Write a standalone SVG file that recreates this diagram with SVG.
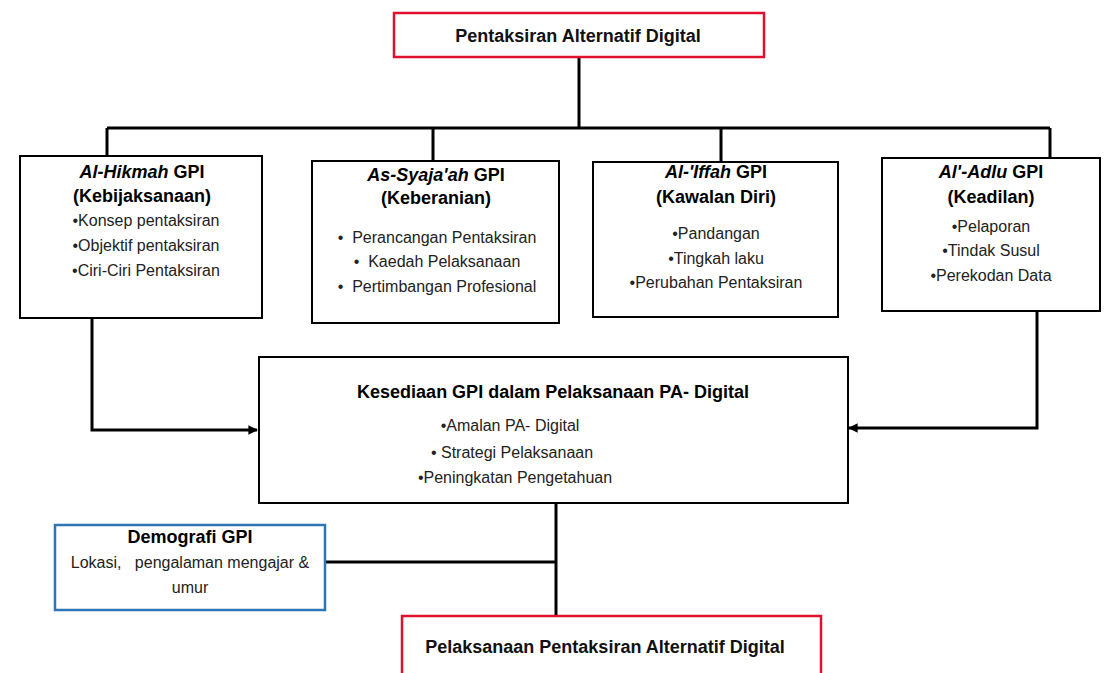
<svg xmlns="http://www.w3.org/2000/svg" width="1104" height="673" viewBox="0 0 1104 673">
<defs>
<style>
.box{fill:#fff;stroke:#000;stroke-width:2}
.red{fill:#fff;stroke:#e0102f;stroke-width:2.5}
.blue{fill:#fff;stroke:#2e75b6;stroke-width:2.5}
.ttl{font-family:"Liberation Sans",Arial,sans-serif;font-weight:bold;font-size:18px;fill:#000;text-anchor:middle}
.hd{font-family:"Liberation Sans",Arial,sans-serif;font-weight:bold;font-size:18px;fill:#111;text-anchor:middle}
.bl{font-family:"Liberation Sans",Arial,sans-serif;font-size:16px;fill:#222;text-anchor:middle;white-space:pre}
.it{font-style:italic}
.ln{fill:none;stroke:#000;stroke-width:3}
</style>
<marker id="ar" viewBox="0 0 10 10" refX="9" refY="5" markerWidth="3.2" markerHeight="3.2" orient="auto" markerUnits="strokeWidth">
<path d="M0,0 L10,5 L0,10 z" fill="#000"/>
</marker>
</defs>
<rect width="1104" height="673" fill="#fff"/>
<g id="connectors">
<path class="ln" d="M579,57 V128"/>
<path class="ln" d="M107,128 H1050"/>
<path class="ln" d="M107,128 V156"/>
<path class="ln" d="M433,128 V161"/>
<path class="ln" d="M721,128 V162"/>
<path class="ln" d="M1050,128 V158"/>
<path class="ln" d="M92,318 V430 H257" marker-end="url(#ar)"/>
<path class="ln" d="M1037,311 V428 H849" marker-end="url(#ar)"/>
<path class="ln" d="M556,503 V616"/>
<path class="ln" d="M325,562 H556"/>
</g>
<g id="top">
<rect class="red" x="394" y="13" width="370" height="44"/>
<text class="hd" x="578" y="42">Pentaksiran Alternatif Digital</text>
</g>
<g id="hikmah">
<rect class="box" x="20" y="156" width="242" height="162"/>
<text class="ttl" x="142" y="178"><tspan class="it">Al-Hikmah</tspan> GPI</text>
<text class="ttl" x="142" y="202">(Kebijaksanaan)</text>
<text class="bl" x="146" y="226">•Konsep pentaksiran</text>
<text class="bl" x="146" y="251">•Objektif pentaksiran</text>
<text class="bl" x="146" y="276">•Ciri-Ciri Pentaksiran</text>
</g>
<g id="syajaah">
<rect class="box" x="312" y="161" width="247" height="162"/>
<text class="ttl" x="436" y="181"><tspan class="it">As-Syaja'ah</tspan> GPI</text>
<text class="ttl" x="436" y="204">(Keberanian)</text>
<text class="bl" x="437" y="243">•  Perancangan Pentaksiran</text>
<text class="bl" x="437" y="267">•  Kaedah Pelaksanaan</text>
<text class="bl" x="437" y="292">•  Pertimbangan Profesional</text>
</g>
<g id="iffah">
<rect class="box" x="593" y="162" width="245" height="155"/>
<text class="ttl" x="716" y="178"><tspan class="it">Al-'Iffah</tspan> GPI</text>
<text class="ttl" x="716" y="203">(Kawalan Diri)</text>
<text class="bl" x="716" y="239">•Pandangan</text>
<text class="bl" x="716" y="264">•Tingkah laku</text>
<text class="bl" x="716" y="288">•Perubahan Pentaksiran</text>
</g>
<g id="adlu">
<rect class="box" x="882" y="158" width="218" height="153"/>
<text class="ttl" x="991" y="178"><tspan class="it">Al'-Adlu</tspan> GPI</text>
<text class="ttl" x="991" y="203">(Keadilan)</text>
<text class="bl" x="991" y="232">•Pelaporan</text>
<text class="bl" x="991" y="256">•Tindak Susul</text>
<text class="bl" x="991" y="281">•Perekodan Data</text>
</g>
<g id="kesediaan">
<rect class="box" x="259" y="357" width="589" height="146"/>
<text class="ttl" x="553" y="398" font-size="17">Kesediaan GPI dalam Pelaksanaan PA- Digital</text>
<text class="bl" x="510" y="431">•Amalan PA- Digital</text>
<text class="bl" x="512" y="458">• Strategi Pelaksanaan</text>
<text class="bl" x="515" y="483">•Peningkatan Pengetahuan</text>
</g>
<g id="demografi">
<rect class="blue" x="55" y="525" width="270" height="85"/>
<text class="ttl" x="190" y="543" font-size="14.5">Demografi GPI</text>
<text class="bl" x="190" y="568" fill="#111">Lokasi,   pengalaman mengajar &amp;</text>
<text class="bl" x="190" y="593" fill="#111">umur</text>
</g>
<g id="pelaksanaan">
<rect class="red" x="402" y="616" width="419" height="70"/>
<text class="hd" x="605" y="653">Pelaksanaan Pentaksiran Alternatif Digital</text>
</g>
</svg>
